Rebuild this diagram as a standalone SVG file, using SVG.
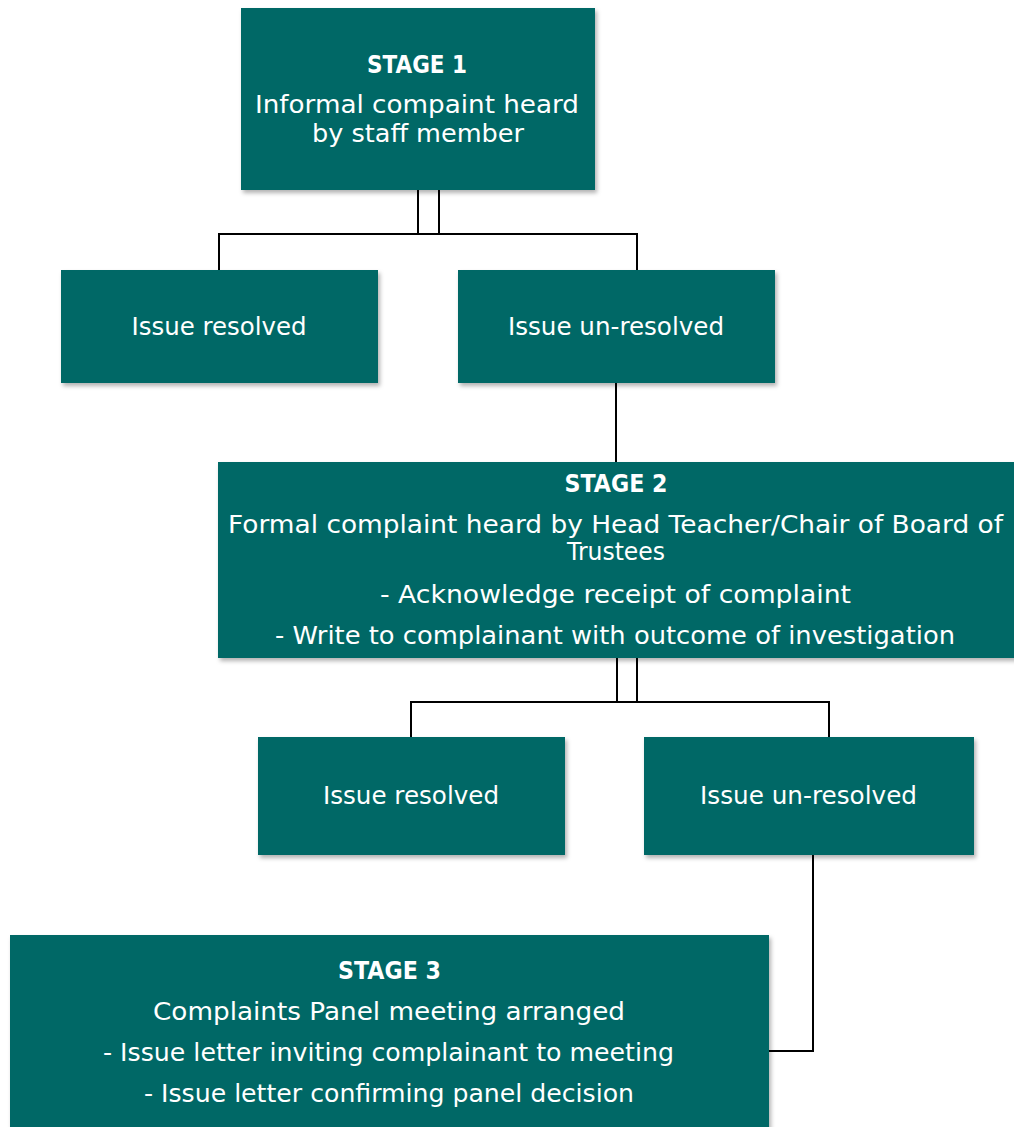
<svg xmlns="http://www.w3.org/2000/svg" width="1014" height="1127" viewBox="0 0 1014 1127">
<defs>
<filter id="sh" x="-5%" y="-5%" width="112%" height="115%">
<feDropShadow dx="2" dy="3" stdDeviation="2" flood-color="#000" flood-opacity="0.3"/>
</filter>
<style>
.box{fill:#016866;filter:url(#sh)}
.t{font-family:"DejaVu Sans","Liberation Sans",sans-serif;font-size:24px;fill:#ffffff;text-anchor:middle}
.b{font-weight:bold}
.c{fill:none;stroke:#000;stroke-width:2}
</style>
</defs>
<rect width="1014" height="1127" fill="#fff"/>
<g id="connectors">
<path class="c" d="M418,190V234M439,190V234M219,270V234H637V270"/>
<path class="c" d="M616,383V462"/>
<path class="c" d="M617,658V702M637,658V702M411,737V702H829V737"/>
<path class="c" d="M813,855V1051H769"/>
</g>
<g id="stage1">
<rect class="box" x="241" y="8" width="354" height="182"/>
<text class="t b" x="417" y="73" textLength="100" lengthAdjust="spacingAndGlyphs">STAGE 1</text>
<text class="t" x="417" y="113" textLength="324" lengthAdjust="spacingAndGlyphs">Informal compaint heard</text>
<text class="t" x="418" y="142" textLength="212" lengthAdjust="spacingAndGlyphs">by staff member</text>
</g>
<g id="resolved1">
<rect class="box" x="61" y="270" width="317" height="113"/>
<text class="t" x="219" y="335" textLength="175" lengthAdjust="spacingAndGlyphs">Issue resolved</text>
</g>
<g id="unresolved1">
<rect class="box" x="458" y="270" width="317" height="113"/>
<text class="t" x="616" y="335" textLength="216" lengthAdjust="spacingAndGlyphs">Issue un-resolved</text>
</g>
<g id="stage2">
<rect class="box" x="218" y="462" width="800" height="196"/>
<text class="t b" x="616" y="492" textLength="103" lengthAdjust="spacingAndGlyphs">STAGE 2</text>
<text class="t" x="615.5" y="533" textLength="775" lengthAdjust="spacingAndGlyphs">Formal complaint heard by Head Teacher/Chair of Board of</text>
<text class="t" x="616" y="560" textLength="98" lengthAdjust="spacingAndGlyphs">Trustees</text>
<text class="t" x="615.5" y="603" textLength="471" lengthAdjust="spacingAndGlyphs">- Acknowledge receipt of complaint</text>
<text class="t" x="615" y="644" textLength="680" lengthAdjust="spacingAndGlyphs">- Write to complainant with outcome of investigation</text>
</g>
<g id="resolved2">
<rect class="box" x="258" y="737" width="307" height="118"/>
<text class="t" x="411" y="804" textLength="176" lengthAdjust="spacingAndGlyphs">Issue resolved</text>
</g>
<g id="unresolved2">
<rect class="box" x="644" y="737" width="330" height="118"/>
<text class="t" x="808.5" y="804" textLength="217" lengthAdjust="spacingAndGlyphs">Issue un-resolved</text>
</g>
<g id="stage3">
<rect class="box" x="10" y="935" width="759" height="200"/>
<text class="t b" x="389.5" y="979" textLength="103" lengthAdjust="spacingAndGlyphs">STAGE 3</text>
<text class="t" x="389" y="1020" textLength="472" lengthAdjust="spacingAndGlyphs">Complaints Panel meeting arranged</text>
<text class="t" x="388.5" y="1061" textLength="571" lengthAdjust="spacingAndGlyphs">- Issue letter inviting complainant to meeting</text>
<text class="t" x="389" y="1102" textLength="490" lengthAdjust="spacingAndGlyphs">- Issue letter confirming panel decision</text>
</g>
</svg>
